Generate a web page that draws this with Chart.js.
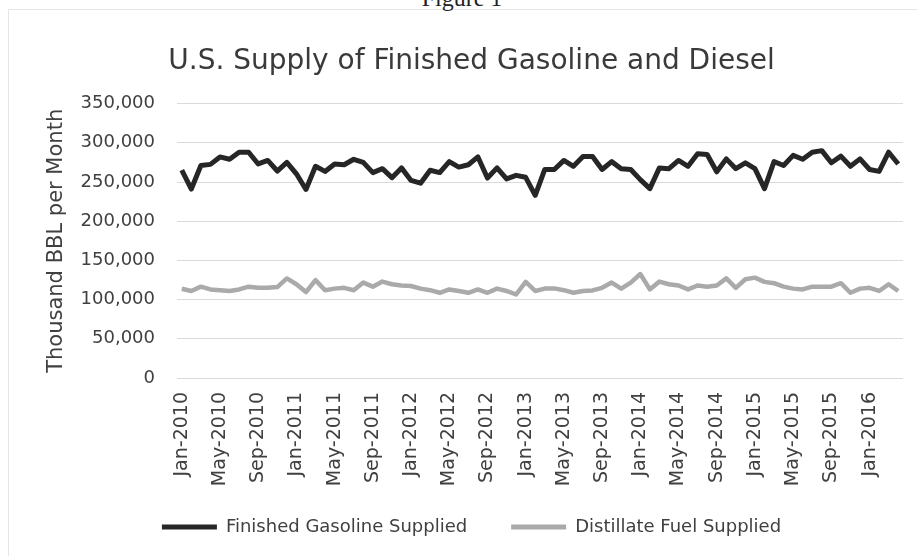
<!DOCTYPE html>
<html>
<head>
<meta charset="utf-8">
<script src="https://cdn.jsdelivr.net/npm/chart.js@4/dist/chart.umd.min.js"></script>
<style>
  html, body { margin: 0; padding: 0; background: #ffffff; overflow: hidden; }
  #wrap { position: relative; width: 917px; height: 556px; }
  #fig { position: absolute; top: -15px; left: 0; width: 924px; text-align: center;
         font-family: "Liberation Serif", serif; font-size: 24px; color: #222; }
  #frame { position: absolute; left: 8px; top: 9px; right: -2px; bottom: -2px; border: 1px solid #e6e6e6; }
  canvas { position: absolute; left: 0; top: 0; }
</style>
</head>
<body>
<div id="wrap">
  <div id="frame"></div>
  <div id="fig">Figure 1</div>
  <canvas id="c" width="917" height="556"></canvas>
</div>
<script>
const categories = [
  "Jan-2010","Feb-2010","Mar-2010","Apr-2010","May-2010","Jun-2010","Jul-2010","Aug-2010","Sep-2010","Oct-2010","Nov-2010","Dec-2010",
  "Jan-2011","Feb-2011","Mar-2011","Apr-2011","May-2011","Jun-2011","Jul-2011","Aug-2011","Sep-2011","Oct-2011","Nov-2011","Dec-2011",
  "Jan-2012","Feb-2012","Mar-2012","Apr-2012","May-2012","Jun-2012","Jul-2012","Aug-2012","Sep-2012","Oct-2012","Nov-2012","Dec-2012",
  "Jan-2013","Feb-2013","Mar-2013","Apr-2013","May-2013","Jun-2013","Jul-2013","Aug-2013","Sep-2013","Oct-2013","Nov-2013","Dec-2013",
  "Jan-2014","Feb-2014","Mar-2014","Apr-2014","May-2014","Jun-2014","Jul-2014","Aug-2014","Sep-2014","Oct-2014","Nov-2014","Dec-2014",
  "Jan-2015","Feb-2015","Mar-2015","Apr-2015","May-2015","Jun-2015","Jul-2015","Aug-2015","Sep-2015","Oct-2015","Nov-2015","Dec-2015",
  "Jan-2016","Feb-2016","Mar-2016","Apr-2016"
];

const gasolineSupplied = [
  265000, 241000, 271000, 272500, 282000, 279000, 288000, 288000, 273000, 277500,
  264000, 275000, 260500, 240500, 270000, 263500, 273000, 272000, 279000, 275000,
  262000, 267000, 255500, 268000, 252000, 248500, 265000, 262000, 276000, 269000,
  272000, 282000, 255000, 268000, 254000, 258500, 256000, 233000, 266000, 266000,
  277500, 270000, 282500, 282500, 266000, 276000, 267000, 266000, 253000, 241500,
  268000, 267000, 277500, 270000, 286000, 285000, 263000, 279500, 267000, 274500,
  267000, 241500, 276000, 271000, 284000, 279000, 288000, 290000, 274500, 283000,
  270000, 279500, 266000, 263500, 288000, 273000
];

const distillateSupplied = [
  113900, 110900, 116500, 113000, 112000, 111000, 113000, 116500, 115000, 115000,
  116000, 127000, 119600, 109600, 124800, 112000, 114000, 115000, 112000, 121700,
  116500, 123000, 119600, 118000, 117400, 114000, 112000, 108700, 113000, 111000,
  108700, 113000, 108700, 114000, 111000, 106500, 122600, 111000, 114000, 114300,
  112000, 108700, 111000, 111700, 115000, 121700, 114000, 121700, 132600, 113000,
  123000, 119600, 118000, 113000, 118000, 116500, 118000, 127000, 115000, 126000,
  128000, 122600, 120900, 116500, 114000, 113000, 116500, 116500, 116500, 120900,
  108700, 114000, 115000, 111000, 119600, 111000
];

const seriesNames = ["Finished Gasoline Supplied", "Distillate Fuel Supplied"];
const chartTitle = "U.S. Supply of Finished Gasoline and Diesel";
const yAxisTitle = "Thousand BBL per Month";
const yTickValues = [0, 50000, 100000, 150000, 200000, 250000, 300000, 350000];

const FONT = "'DejaVu Sans', sans-serif";

new Chart(document.getElementById("c"), {
  type: "line",
  data: {
    labels: categories,
    datasets: [
      {
        label: seriesNames[0],
        data: gasolineSupplied,
        borderColor: "#262626",
        backgroundColor: "#262626",
        borderWidth: 5,
        pointRadius: 0,
        tension: 0,
        borderJoinStyle: "round"
      },
      {
        label: seriesNames[1],
        data: distillateSupplied,
        borderColor: "#aaaaaa",
        backgroundColor: "#aaaaaa",
        borderWidth: 4.5,
        pointRadius: 0,
        tension: 0,
        borderJoinStyle: "round"
      }
    ]
  },
  options: {
    responsive: false,
    animation: false,
    layout: { padding: { left: 40, right: 14, top: 0, bottom: 10 } },
    plugins: {
      title: {
        display: true,
        text: chartTitle,
        color: "#3a3a3a",
        font: { family: FONT, size: 28, weight: "normal" },
        padding: { top: 45, bottom: 25 }
      },
      legend: {
        position: "bottom",
        labels: {
          color: "#404040",
          font: { family: FONT, size: 18 },
          boxWidth: 55,
          boxHeight: 5,
          padding: 44,
          generateLabels: (chart) =>
            Chart.defaults.plugins.legend.labels.generateLabels(chart).map(l => ({
              ...l, lineWidth: 0, fillStyle: l.strokeStyle
            }))
        }
      },
      tooltip: { enabled: false }
    },
    scales: {
      x: {
        offset: true,
        grid: { display: false, drawTicks: false },
        border: { display: false },
        ticks: {
          autoSkip: false,
          minRotation: 90,
          maxRotation: 90,
          padding: 14,
          color: "#404040",
          font: { family: FONT, size: 19 },
          callback: function (val, idx) { return idx % 4 === 0 ? this.getLabelForValue(val) : ""; }
        },
        afterFit: (s) => {
          s.height = 96;
          s.paddingLeft = 0;
          s.paddingRight = 0;
          s._computeLabelArea = function () { return undefined; };
        }
      },
      y: {
        min: 0,
        max: 350000,
        afterBuildTicks: (s) => { s.ticks = yTickValues.map(v => ({ value: v })); },
        grid: { color: "#dadada", lineWidth: 1, drawTicks: false },
        border: { display: false },
        ticks: {
          padding: 22,
          color: "#404040",
          font: { family: FONT, size: 18 },
          callback: (v) => v.toLocaleString("en-US")
        },
        title: {
          display: true,
          text: yAxisTitle,
          color: "#404040",
          font: { family: FONT, size: 21 },
          padding: { top: 4, bottom: 4 }
        },
        afterFit: (s) => { s.width = 137; }
      }
    }
  }
});
</script>
</body>
</html>
